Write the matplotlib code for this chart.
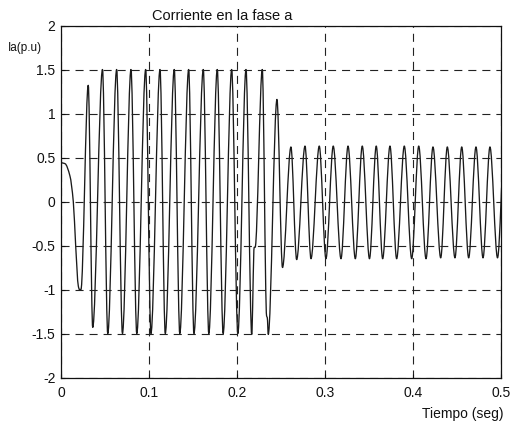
import matplotlib
matplotlib.use("Agg")
import matplotlib.pyplot as plt
from matplotlib.path import Path
from matplotlib.patches import PathPatch
import numpy as np

plt.rcParams['font.family'] = ['Liberation Sans', 'DejaVu Sans']
plt.rcParams['lines.scale_dashes'] = False

# Phase-a current: turning points (time in s, current in p.u.)
t_pts = [0.0000, 0.0046, 0.0102, 0.0140, 0.0167, 0.0197, 0.0210, 0.0227,
         0.0310, 0.0361,
         0.0472, 0.0532, 0.0633, 0.0699, 0.0796, 0.0862, 0.0963, 0.1023,
         0.1126, 0.1186, 0.1288, 0.1351, 0.1452, 0.1512, 0.1618, 0.1681,
         0.1777, 0.1844, 0.1941, 0.2011, 0.2104, 0.2169, 0.2197, 0.2208,
         0.2289, 0.2338, 0.2346, 0.2357,
         0.2456, 0.2519,
         0.2615, 0.2680, 0.2775, 0.2843, 0.2937, 0.3013, 0.3096, 0.3184,
         0.3264, 0.3347, 0.3426, 0.3508, 0.3585, 0.3658, 0.3741, 0.3817,
         0.3904, 0.3988, 0.4068, 0.4151, 0.4230, 0.4318, 0.4393, 0.4480,
         0.4557, 0.4636, 0.4719, 0.4799, 0.4878, 0.4964, 0.5043]
ia_pts = [0.44, 0.43, 0.29, 0.00, -0.50, -0.96, -1.00, -1.00,
          1.32, -1.43,
          1.50, -1.50, 1.50, -1.50, 1.50, -1.50, 1.50, -1.50,
          1.50, -1.50, 1.50, -1.50, 1.50, -1.50, 1.50, -1.50,
          1.50, -1.50, 1.50, -1.50, 1.50, -1.51, -0.52, -0.52,
          1.50, -1.30, -1.32, -1.51,
          1.16, -0.75,
          0.62, -0.66, 0.63, -0.65, 0.63, -0.65, 0.63, -0.65,
          0.63, -0.65, 0.63, -0.65, 0.63, -0.65, 0.63, -0.65,
          0.63, -0.65, 0.63, -0.65, 0.62, -0.64, 0.62, -0.64,
          0.62, -0.64, 0.62, -0.64, 0.62, -0.64, 0.62]

x_ticks = [0, 0.1, 0.2, 0.3, 0.4, 0.5]
x_labels = ['0', '0.1', '0.2', '0.3', '0.4', '0.5']
y_ticks = [-2, -1.5, -1, -0.5, 0, 0.5, 1, 1.5, 2]
y_labels = ['-2', '-1.5', '-1', '-0.5', '0', '0.5', '1', '1.5', '2']

fig = plt.figure(figsize=(5.12, 4.26), dpi=100)
ax = fig.add_axes([0.1191, 0.1138, 0.8588, 0.8263])

# smooth trace through the read turning points (monotone cubic, drawn as Bezier path)
t = np.asarray(t_pts)
y = np.asarray(ia_pts)
h = np.diff(t)
d = np.diff(y) / h
m = np.zeros_like(y)
for i in range(1, len(y) - 1):
    if d[i - 1] * d[i] > 0:
        m[i] = 2.0 / (1.0 / d[i - 1] + 1.0 / d[i])
verts = [(t[0], y[0])]
codes = [Path.MOVETO]
for i in range(len(h)):
    verts += [(t[i] + h[i] / 3, y[i] + m[i] * h[i] / 3),
              (t[i + 1] - h[i] / 3, y[i + 1] - m[i + 1] * h[i] / 3),
              (t[i + 1], y[i + 1])]
    codes += [Path.CURVE4] * 3
trace = PathPatch(Path(verts, codes), transform=ax.transData, fill=False,
                  edgecolor='#1a1a1a', lw=0.95, joinstyle='round')
trace.set_clip_path(ax.patch)
ax.add_patch(trace)

ax.set_xlim(0, 0.5)
ax.set_ylim(-2, 2)
ax.set_xticks(x_ticks)
ax.set_xticklabels(x_labels)
ax.set_yticks(y_ticks)
ax.set_yticklabels(y_labels)
ax.tick_params(axis='both', direction='in', length=3, labelsize=10, colors='#111')
ax.tick_params(axis='x', pad=6)
ax.tick_params(axis='y', pad=4)

ax.grid(True, color='#222', lw=0.8, linestyle=(0, (5.8, 4.3)))
for s in ax.spines.values():
    s.set_linewidth(0.9)
    s.set_color('#111')

ax.text(0.206, 1.015, 'Corriente en la fase a', transform=ax.transAxes,
        ha='left', va='baseline', fontsize=10.5, color='#111')

ax.set_xlabel('Tiempo (seg)', ha='right', va='center', fontsize=10, color='#111')
ax.xaxis.set_label_coords(1.007, -0.104)
ax.set_ylabel('Ia(p.u)', rotation=0, ha='left', va='center', fontsize=8.5, color='#111')
ax.yaxis.set_label_coords(-0.12, 0.935)

fig.savefig('out.png', dpi=100, facecolor='white')
